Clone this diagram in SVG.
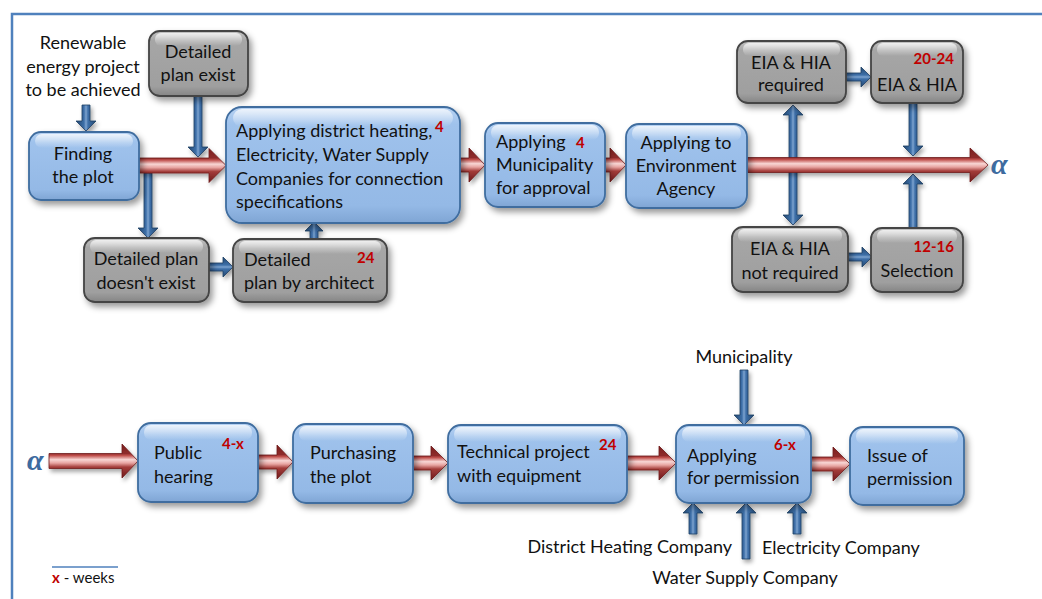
<svg xmlns="http://www.w3.org/2000/svg" width="1042" height="599" viewBox="0 0 1042 599">
<defs>
  <linearGradient id="gBlue" x1="0" y1="0" x2="0" y2="1">
    <stop offset="0" stop-color="#B7D2F2"/>
    <stop offset="0.15" stop-color="#9FC2EC"/>
    <stop offset="0.85" stop-color="#94B9E6"/>
    <stop offset="1" stop-color="#7FA5D4"/>
  </linearGradient>
  <linearGradient id="gGray" x1="0" y1="0" x2="0" y2="1">
    <stop offset="0" stop-color="#C4C4C4"/>
    <stop offset="0.15" stop-color="#A6A6A6"/>
    <stop offset="0.85" stop-color="#9F9F9F"/>
    <stop offset="1" stop-color="#858585"/>
  </linearGradient>
  <linearGradient id="gShine" x1="0" y1="0" x2="0" y2="1">
    <stop offset="0" stop-color="#FFFFFF" stop-opacity="0.75"/>
    <stop offset="1" stop-color="#FFFFFF" stop-opacity="0"/>
  </linearGradient>
  <linearGradient id="gRed" x1="0" y1="0" x2="0" y2="1">
    <stop offset="0" stop-color="#7A1F1F"/>
    <stop offset="0.28" stop-color="#8E2C2B"/>
    <stop offset="0.34" stop-color="#C0504D"/>
    <stop offset="0.46" stop-color="#F8D6D4"/>
    <stop offset="0.56" stop-color="#E8A5A2"/>
    <stop offset="0.68" stop-color="#A33C3A"/>
    <stop offset="1" stop-color="#6E1A1A"/>
  </linearGradient>
  <linearGradient id="gBlueV" x1="0" y1="0" x2="1" y2="0">
    <stop offset="0" stop-color="#23476F"/>
    <stop offset="0.4" stop-color="#3D6FA8"/>
    <stop offset="0.5" stop-color="#7DA3CF"/>
    <stop offset="0.6" stop-color="#3D6FA8"/>
    <stop offset="1" stop-color="#23476F"/>
  </linearGradient>
  <linearGradient id="gBlueH" x1="0" y1="0" x2="0" y2="1">
    <stop offset="0" stop-color="#23476F"/>
    <stop offset="0.4" stop-color="#3D6FA8"/>
    <stop offset="0.5" stop-color="#7DA3CF"/>
    <stop offset="0.6" stop-color="#3D6FA8"/>
    <stop offset="1" stop-color="#23476F"/>
  </linearGradient>
  <filter id="sh" x="-20%" y="-20%" width="150%" height="160%">
    <feDropShadow dx="3" dy="4" stdDeviation="3" flood-color="#000" flood-opacity="0.4"/>
  </filter>
  <filter id="shs" x="-30%" y="-30%" width="170%" height="170%">
    <feDropShadow dx="2" dy="3" stdDeviation="2" flood-color="#000" flood-opacity="0.35"/>
  </filter>
</defs>
<style>
  .blue { fill: url(#gBlue); stroke: #3F6D9F; stroke-width: 1.8; filter: url(#sh); }
  .gray { fill: url(#gGray); stroke: #444444; stroke-width: 1.8; filter: url(#sh); }
  .shine { fill: url(#gShine); }
  .t { font-family: Lato, "Liberation Sans", sans-serif; font-size: 18px; fill: #111; }
  .c { text-anchor: middle; }
  .n { font-family: Lato, "Liberation Sans", sans-serif; font-size: 15px; font-weight: bold; fill: #C00000; }
  .alpha { font-family: "Liberation Serif", "DejaVu Serif", serif; font-size: 30px; font-weight: bold; font-style: italic; fill: #3E6B9F; }
  .red { fill: url(#gRed); stroke: #6E1A1A; stroke-width: 0.8; filter: url(#shs); }
  .bv { fill: url(#gBlueV); stroke: #1F3F63; stroke-width: 0.8; filter: url(#shs); }
  .bh { fill: url(#gBlueH); stroke: #1F3F63; stroke-width: 0.8; filter: url(#shs); }
  .border { stroke: #4F81BD; stroke-width: 2.5; fill: none; }
</style>

<rect x="0" y="0" width="1042" height="599" fill="#FFFFFF"/>
<path class="border" d="M 12,599 L 12,14 L 1042,14"/>

<g id="connectors">
  <path class="bv" d="M 82,105 L 90,105 L 90,121 L 96,121 L 86,131 L 76,121 L 82,121 Z"/>
  <path class="bv" d="M 194,96 L 202,96 L 202,147 L 208,147 L 198,157 L 188,147 L 194,147 Z"/>
  <path class="bv" d="M 144,173 L 152,173 L 152,228 L 158,228 L 148,238 L 138,228 L 144,228 Z"/>
  <path class="bh" d="M 209,263 L 223,263 L 223,257 L 233,267 L 223,277 L 223,271 L 209,271 Z"/>
  <path class="bv" d="M 310,239 L 318,239 L 318,231 L 323,231 L 314,222 L 305,231 L 310,231 Z"/>
  <path class="bh" d="M 846,73 L 861,73 L 861,67 L 871,77 L 861,87 L 861,81 L 846,81 Z"/>
  <path class="bv" d="M 909,103 L 917,103 L 917,146 L 923,146 L 913,156 L 903,146 L 909,146 Z"/>
  <path class="bv" d="M 789,115 L 783,115 L 793,105 L 803,115 L 797,115 L 797,215 L 803,215 L 793,225 L 783,215 L 789,215 Z"/>
  <path class="bh" d="M 848,253 L 862,253 L 862,247 L 872,257 L 862,267 L 862,261 L 848,261 Z"/>
  <path class="bv" d="M 909,228 L 917,228 L 917,184 L 923,184 L 913,174 L 903,184 L 909,184 Z"/>
  <path class="bv" d="M 740,370 L 748,370 L 748,415 L 754,415 L 744,425 L 734,415 L 740,415 Z"/>
  <path class="bv" d="M 689,534 L 697,534 L 697,513 L 703,513 L 693,503 L 683,513 L 689,513 Z"/>
  <path class="bv" d="M 742,559 L 750,559 L 750,513 L 756,513 L 746,503 L 736,513 L 742,513 Z"/>
  <path class="bv" d="M 793,534 L 801,534 L 801,513 L 807,513 L 797,503 L 787,513 L 793,513 Z"/>

  <path class="red" d="M 139,158 L 209,158 L 209,148.5 L 226,165.5 L 209,182.5 L 209,173 L 139,173 Z"/>
  <path class="red" d="M 460,158 L 469,158 L 469,148 L 485,165 L 469,182 L 469,172 L 460,172 Z"/>
  <path class="red" d="M 605,158 L 610,158 L 610,148 L 626,165 L 610,182 L 610,172 L 605,172 Z"/>
  <path class="red" d="M 747,157.5 L 970,157.5 L 970,148 L 988,165 L 970,182 L 970,172.5 L 747,172.5 Z"/>
  <path class="red" d="M 49,453.5 L 122,453.5 L 122,444 L 138,461 L 122,478 L 122,468.5 L 49,468.5 Z"/>
  <path class="red" d="M 258,455 L 277,455 L 277,445 L 293,462 L 277,479 L 277,469 L 258,469 Z"/>
  <path class="red" d="M 413,456 L 431,456 L 431,446 L 448,463 L 431,480 L 431,470 L 413,470 Z"/>
  <path class="red" d="M 627,456 L 659,456 L 659,446 L 676,463 L 659,480 L 659,470 L 627,470 Z"/>
  <path class="red" d="M 811,457 L 833,457 L 833,447 L 850,464 L 833,481 L 833,471 L 811,471 Z"/>
</g>

<text class="t c" x="83" y="49">Renewable</text>
<text class="t c" x="83" y="73">energy project</text>
<text class="t c" x="83" y="96">to be achieved</text>

<g id="finding">
  <rect class="blue" x="29" y="132" width="110" height="68" rx="12"/>
  <rect class="shine" x="35" y="134" width="98" height="14" rx="7"/>
  <text class="t c" x="83" y="160">Finding</text>
  <text class="t c" x="83" y="183">the plot</text>
</g>

<g id="detailedExist">
  <rect class="gray" x="149" y="31" width="99" height="65" rx="11"/>
  <rect class="shine" x="155" y="33" width="87" height="13" rx="6"/>
  <text class="t c" x="198" y="58">Detailed</text>
  <text class="t c" x="198" y="81">plan exist</text>
</g>

<g id="applyDH">
  <rect class="blue" x="226" y="107" width="234" height="116" rx="16"/>
  <rect class="shine" x="233" y="109" width="220" height="18" rx="9"/>
  <text class="t" x="236" y="137">Applying district heating,</text>
  <text class="n" x="435" y="132">4</text>
  <text class="t" x="236" y="161">Electricity, Water Supply</text>
  <text class="t" x="236" y="185">Companies for connection</text>
  <text class="t" x="236" y="208">specifications</text>
</g>

<g id="doesntExist">
  <rect class="gray" x="84" y="238" width="125" height="64" rx="11"/>
  <rect class="shine" x="90" y="240" width="113" height="13" rx="6"/>
  <text class="t c" x="146" y="265">Detailed plan</text>
  <text class="t c" x="146" y="289">doesn't exist</text>
</g>

<g id="byArchitect">
  <rect class="gray" x="233" y="239" width="154" height="63" rx="11"/>
  <rect class="shine" x="239" y="241" width="142" height="13" rx="6"/>
  <text class="t" x="244" y="266">Detailed</text>
  <text class="n" x="357" y="263">24</text>
  <text class="t" x="244" y="289">plan by architect</text>
</g>

<g id="municipality">
  <rect class="blue" x="485" y="123" width="120" height="84" rx="13"/>
  <rect class="shine" x="491" y="125" width="108" height="15" rx="7"/>
  <text class="t" x="496" y="148">Applying</text>
  <text class="n" x="576" y="148">4</text>
  <text class="t" x="496" y="171">Municipality</text>
  <text class="t" x="496" y="194">for approval</text>
</g>

<g id="envAgency">
  <rect class="blue" x="626" y="124" width="121" height="84" rx="13"/>
  <rect class="shine" x="632" y="126" width="109" height="15" rx="7"/>
  <text class="t c" x="686" y="149">Applying to</text>
  <text class="t c" x="686" y="172">Environment</text>
  <text class="t c" x="686" y="195">Agency</text>
</g>

<g id="eiaRequired">
  <rect class="gray" x="737" y="41" width="109" height="62" rx="11"/>
  <rect class="shine" x="743" y="43" width="97" height="13" rx="6"/>
  <text class="t c" x="791" y="69">EIA &amp; HIA</text>
  <text class="t c" x="791" y="91">required</text>
</g>

<g id="eiaHia">
  <rect class="gray" x="871" y="41" width="92" height="62" rx="11"/>
  <rect class="shine" x="877" y="43" width="80" height="13" rx="6"/>
  <text class="n" x="954" y="64" text-anchor="end">20-24</text>
  <text class="t c" x="917" y="91">EIA &amp; HIA</text>
</g>

<g id="eiaNotRequired">
  <rect class="gray" x="732" y="227" width="116" height="65" rx="11"/>
  <rect class="shine" x="738" y="229" width="104" height="13" rx="6"/>
  <text class="t c" x="790" y="255">EIA &amp; HIA</text>
  <text class="t c" x="790" y="279">not required</text>
</g>

<g id="selection">
  <rect class="gray" x="871" y="228" width="92" height="64" rx="11"/>
  <rect class="shine" x="877" y="230" width="80" height="13" rx="6"/>
  <text class="n" x="954" y="252" text-anchor="end">12-16</text>
  <text class="t c" x="917" y="277">Selection</text>
</g>

<text class="alpha" x="991" y="174">α</text>
<text class="alpha" x="27" y="470">α</text>

<g id="publicHearing">
  <rect class="blue" x="138" y="423" width="120" height="79" rx="13"/>
  <rect class="shine" x="144" y="425" width="108" height="15" rx="7"/>
  <text class="t" x="154" y="459">Public</text>
  <text class="n" x="222" y="449">4-x</text>
  <text class="t" x="154" y="483">hearing</text>
</g>

<g id="purchasing">
  <rect class="blue" x="293" y="424" width="120" height="79" rx="13"/>
  <rect class="shine" x="299" y="426" width="108" height="15" rx="7"/>
  <text class="t" x="310" y="459">Purchasing</text>
  <text class="t" x="310" y="483">the plot</text>
</g>

<g id="technical">
  <rect class="blue" x="448" y="425" width="179" height="78" rx="13"/>
  <rect class="shine" x="454" y="427" width="167" height="15" rx="7"/>
  <text class="t" x="457" y="458">Technical project</text>
  <text class="n" x="599" y="450">24</text>
  <text class="t" x="457" y="482">with equipment</text>
</g>

<g id="permission">
  <rect class="blue" x="676" y="425" width="135" height="78" rx="13"/>
  <rect class="shine" x="682" y="427" width="123" height="15" rx="7"/>
  <text class="t" x="687" y="462">Applying</text>
  <text class="n" x="774" y="450">6-x</text>
  <text class="t" x="687" y="484">for permission</text>
</g>

<g id="issue">
  <rect class="blue" x="850" y="427" width="114" height="78" rx="13"/>
  <rect class="shine" x="856" y="429" width="102" height="15" rx="7"/>
  <text class="t" x="867" y="462">Issue of</text>
  <text class="t" x="867" y="485">permission</text>
</g>

<text class="t c" x="744" y="363">Municipality</text>
<text class="t" x="732" y="553" text-anchor="end">District Heating Company</text>
<text class="t" x="762" y="554">Electricity Company</text>
<text class="t c" x="745" y="584">Water Supply Company</text>

<g id="legend">
  <line x1="52" y1="567" x2="118" y2="567" stroke="#4F81BD" stroke-width="1.5"/>
  <text x="52" y="583" font-family="Lato, 'Liberation Sans', sans-serif" font-size="15px"><tspan fill="#C00000" font-weight="bold">x</tspan><tspan fill="#111"> - weeks</tspan></text>
</g>
</svg>
